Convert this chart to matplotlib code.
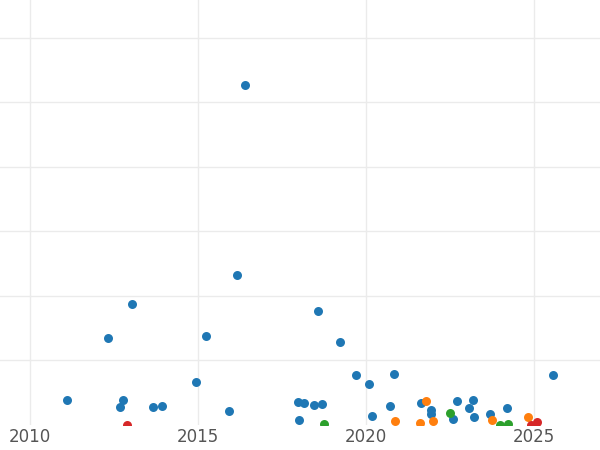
import matplotlib
matplotlib.use("Agg")
import matplotlib.pyplot as plt

# --- data ---
blue_x = [2011.10, 2012.32, 2012.77, 2012.68, 2013.04, 2013.66, 2013.93, 2014.94, 2015.24, 2015.92,
          2016.16, 2016.40, 2017.98, 2018.15, 2018.01, 2018.45, 2018.57, 2018.69, 2019.23, 2019.70,
          2020.09, 2020.18, 2020.71, 2020.83, 2021.64, 2021.93, 2021.93, 2022.59, 2022.71, 2023.07,
          2023.18, 2023.21, 2023.69, 2024.20, 2025.57]
blue_y = [0.39, 1.35, 0.39, 0.28, 1.88, 0.28, 0.29, 0.67, 1.38, 0.22,
          2.33, 5.27, 0.36, 0.34, 0.08, 0.31, 1.77, 0.33, 1.29, 0.78,
          0.64, 0.14, 0.29, 0.79, 0.34, 0.23, 0.17, 0.09, 0.37, 0.26,
          0.39, 0.12, 0.17, 0.26, 0.78]
orange_x = [2020.86, 2021.61, 2021.79, 2022.00, 2023.75, 2024.82]
orange_y = [0.06, 0.03, 0.37, 0.06, 0.08, 0.12]
green_x = [2018.75, 2022.50, 2023.99, 2024.23]
green_y = [0.02, 0.19, 0.00, 0.02]
red_x = [2012.89, 2024.91, 2025.09]
red_y = [0.00, 0.00, 0.05]

fig = plt.figure(figsize=(6, 4.5), dpi=100)
ax = fig.add_axes([0, 0.056, 1, 0.944])

for xs, ys, c in [(blue_x, blue_y, "#1f77b4"), (orange_x, orange_y, "#ff7f0e"),
                  (green_x, green_y, "#2ca02c"), (red_x, red_y, "#d62728")]:
    ax.scatter(xs, ys, s=42, color=c, zorder=3, linewidths=0)

ax.set_xlim(2009.11, 2026.96)
ax.set_ylim(0, 425 / 64.5)
ax.set_xticks([2010, 2015, 2020, 2025])
ax.set_yticks([1, 2, 3, 4, 5, 6])
ax.set_yticklabels([])
ax.grid(True, color="#ebebeb", linewidth=1, zorder=0)
ax.tick_params(length=0, labelsize=12, labelcolor="#555555", pad=2)
ax.tick_params(axis="y", left=False, labelleft=False)
for s in ax.spines.values():
    s.set_visible(False)

fig.savefig("out.png", dpi=100)
